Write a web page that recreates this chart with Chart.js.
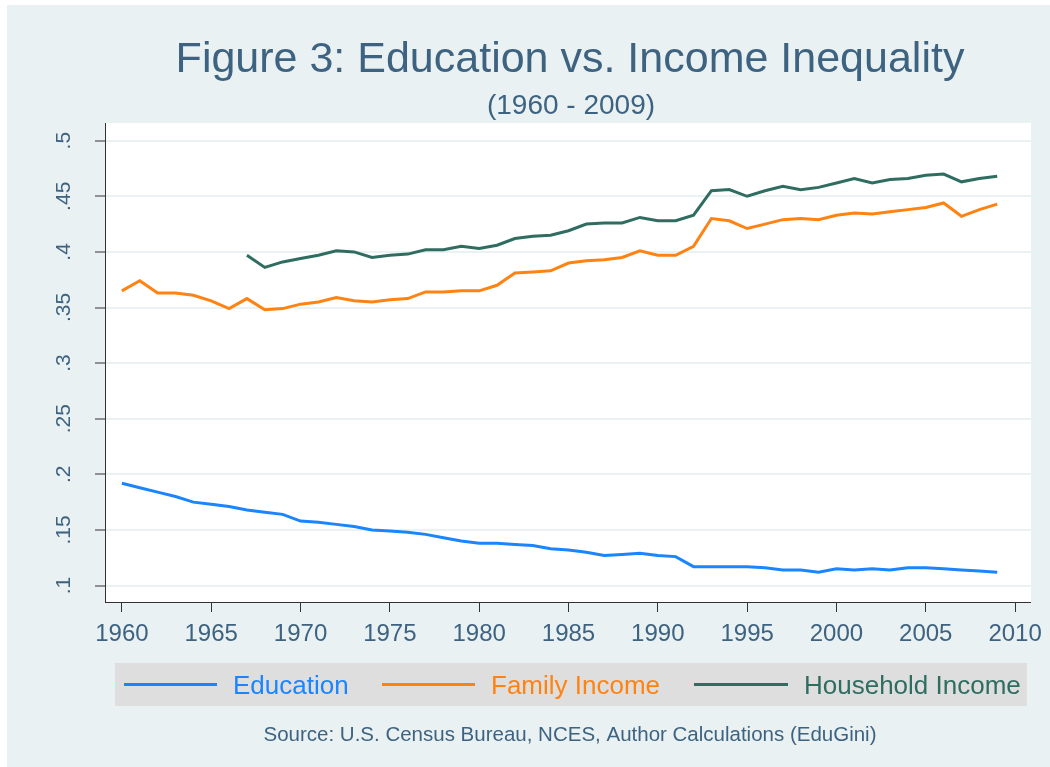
<!DOCTYPE html>
<html>
<head>
<meta charset="utf-8">
<title>Figure 3: Education vs. Income Inequality</title>
<script src="https://cdn.jsdelivr.net/npm/chart.js@4.4.1/dist/chart.umd.min.js"></script>
<style>
    html, body { margin: 0; padding: 0; background: #ffffff; }
    canvas { display: block; }
</style>
</head>
<body>
<canvas id="grafico" width="1050" height="767"></canvas>
<script>
// Datos
const years = [
    1960, 1961, 1962, 1963, 1964, 1965, 1966, 1967, 1968, 1969,
    1970, 1971, 1972, 1973, 1974, 1975, 1976, 1977, 1978, 1979,
    1980, 1981, 1982, 1983, 1984, 1985, 1986, 1987, 1988, 1989,
    1990, 1991, 1992, 1993, 1994, 1995, 1996, 1997, 1998, 1999,
    2000, 2001, 2002, 2003, 2004, 2005, 2006, 2007, 2008, 2009
];

const education = [
    0.192, 0.188, 0.184, 0.180, 0.175, 0.173, 0.171, 0.168, 0.166, 0.164,
    0.158, 0.157, 0.155, 0.153, 0.150, 0.149, 0.148, 0.146, 0.143, 0.140,
    0.138, 0.138, 0.137, 0.136, 0.133, 0.132, 0.130, 0.127, 0.128, 0.129,
    0.127, 0.126, 0.117, 0.117, 0.117, 0.117, 0.116, 0.114, 0.114, 0.112,
    0.115, 0.114, 0.115, 0.114, 0.116, 0.116, 0.115, 0.114, 0.113, 0.112
];

const familyIncome = [
    0.365, 0.374, 0.363, 0.363, 0.361, 0.356, 0.349, 0.358, 0.348, 0.349,
    0.353, 0.355, 0.359, 0.356, 0.355, 0.357, 0.358, 0.364, 0.364, 0.365,
    0.365, 0.370, 0.381, 0.382, 0.383, 0.390, 0.392, 0.393, 0.395, 0.401,
    0.397, 0.397, 0.405, 0.430, 0.428, 0.421, 0.425, 0.429, 0.430, 0.429,
    0.433, 0.435, 0.434, 0.436, 0.438, 0.440, 0.444, 0.432, 0.438, 0.443
];

const householdIncome = [
    null, null, null, null, null, null, null, 0.397, 0.386, 0.391,
    0.394, 0.397, 0.401, 0.400, 0.395, 0.397, 0.398, 0.402, 0.402, 0.405,
    0.403, 0.406, 0.412, 0.414, 0.415, 0.419, 0.425, 0.426, 0.426, 0.431,
    0.428, 0.428, 0.433, 0.455, 0.456, 0.450, 0.455, 0.459, 0.456, 0.458,
    0.462, 0.466, 0.462, 0.465, 0.466, 0.469, 0.470, 0.463, 0.466, 0.468
];

const seriesNames = ["Education", "Family Income", "Household Income"];
const seriesColors = ["#1a85ff", "#ff8312", "#2f6d61"];

const xTicks = [1960, 1965, 1970, 1975, 1980, 1985, 1990, 1995, 2000, 2005, 2010];
const yTicks = [0.1, 0.15, 0.2, 0.25, 0.3, 0.35, 0.4, 0.45, 0.5];
const yTickLabels = [".1", ".15", ".2", ".25", ".3", ".35", ".4", ".45", ".5"];

const titulo = "Figure 3: Education vs. Income Inequality";
const subtitulo = "(1960 - 2009)";
const fuente = "Source: U.S. Census Bureau, NCES, Author Calculations (EduGini)";

const colorTexto = "#3e6381";
const colorFondo = "#e9f1f3";
const fuenteBase = "'Liberation Sans', Arial, sans-serif";

const puntos = valores => years.map((anio, i) => ({ x: anio, y: valores[i] }));

// Fondo, marco blanco y área del gráfico
const fondoPlugin = {
    id: "fondo",
    beforeDraw: chart => {
        const ctx = chart.ctx;
        const area = chart.chartArea;

        ctx.save();
        ctx.fillStyle = "#ffffff";
        ctx.fillRect(0, 0, chart.width, chart.height);
        ctx.fillStyle = colorFondo;
        ctx.fillRect(7, 5, chart.width - 7, chart.height - 5);
        ctx.fillStyle = "#ffffff";
        ctx.fillRect(area.left, area.top, area.right - area.left, area.bottom - area.top);

        // caja de la leyenda
        ctx.fillStyle = "#dedede";
        ctx.fillRect(115, 663, 912, 43);
        ctx.restore();
    }
};

// Títulos, etiquetas del eje Y, leyenda y fuente
const textosPlugin = {
    id: "textos",
    afterDraw: chart => {
        const ctx = chart.ctx;
        const escalaY = chart.scales.y;

        ctx.save();
        ctx.fillStyle = colorTexto;
        ctx.textAlign = "center";
        ctx.textBaseline = "alphabetic";

        ctx.font = `43px ${fuenteBase}`;
        ctx.fillText(titulo, 570, 72);

        ctx.font = `28px ${fuenteBase}`;
        ctx.fillText(subtitulo, 571, 114);

        ctx.font = `20.5px ${fuenteBase}`;
        ctx.fillText(fuente, 570, 741);

        // etiquetas del eje Y giradas
        ctx.font = `21px ${fuenteBase}`;
        ctx.textBaseline = "middle";
        yTicks.forEach((valor, i) => {
            const y = escalaY.getPixelForValue(valor);
            ctx.save();
            ctx.translate(64, y);
            ctx.rotate(-Math.PI / 2);
            ctx.fillText(yTickLabels[i], 0, 0);
            ctx.restore();
        });

        // leyenda
        const lineas = [[124, 217, 233], [382, 475, 491], [694, 788, 804]];
        ctx.font = `26px ${fuenteBase}`;
        ctx.textAlign = "left";
        ctx.lineWidth = 3;
        chart.data.datasets.forEach((ds, i) => {
            const [x1, x2, xt] = lineas[i];
            ctx.strokeStyle = ds.borderColor;
            ctx.beginPath();
            ctx.moveTo(x1, 684.5);
            ctx.lineTo(x2, 684.5);
            ctx.stroke();
            ctx.fillStyle = ds.borderColor;
            ctx.fillText(ds.label, xt, 687);
        });

        ctx.restore();
    }
};

const series = [education, familyIncome, householdIncome];

new Chart(document.getElementById("grafico"), {
    type: "line",

    data: {
        datasets: series.map((valores, i) => ({
            label: seriesNames[i],
            data: puntos(valores),
            borderColor: seriesColors[i],
            backgroundColor: seriesColors[i],
            borderWidth: 3,
            pointRadius: 0,
            tension: 0,
            spanGaps: false
        }))
    },

    options: {
        responsive: false,
        animation: false,

        layout: {
            padding: { top: 123, right: 13, left: 0, bottom: 0 }
        },

        plugins: {
            legend: { display: false },
            title: { display: false },
            tooltip: { enabled: false }
        },

        scales: {
            x: {
                type: "linear",
                min: 1959.054,
                max: 2010.89,
                afterBuildTicks: scale => {
                    scale.ticks = xTicks.map(v => ({ value: v }));
                },
                afterFit: scale => {
                    scale.height = 165;
                },
                grid: {
                    drawOnChartArea: false,
                    drawTicks: true,
                    tickLength: 10,
                    tickColor: "#333333",
                    tickWidth: 1
                },
                border: { display: true, color: "#333333", width: 1 },
                ticks: {
                    color: colorTexto,
                    padding: 8,
                    maxRotation: 0,
                    autoSkip: false,
                    font: { family: fuenteBase, size: 24 },
                    callback: value => String(value)
                }
            },

            y: {
                type: "linear",
                min: 0.0852,
                max: 0.5159,
                afterBuildTicks: scale => {
                    scale.ticks = yTicks.map(v => ({ value: v }));
                },
                afterFit: scale => {
                    scale.width = 105;
                },
                grid: {
                    color: "#eaf2f3",
                    lineWidth: 2,
                    drawTicks: true,
                    tickLength: 10,
                    tickColor: "#333333",
                    tickWidth: 1
                },
                border: { display: true, color: "#333333", width: 1 },
                ticks: { display: false }
            }
        }
    },

    plugins: [fondoPlugin, textosPlugin]
});
</script>
</body>
</html>
